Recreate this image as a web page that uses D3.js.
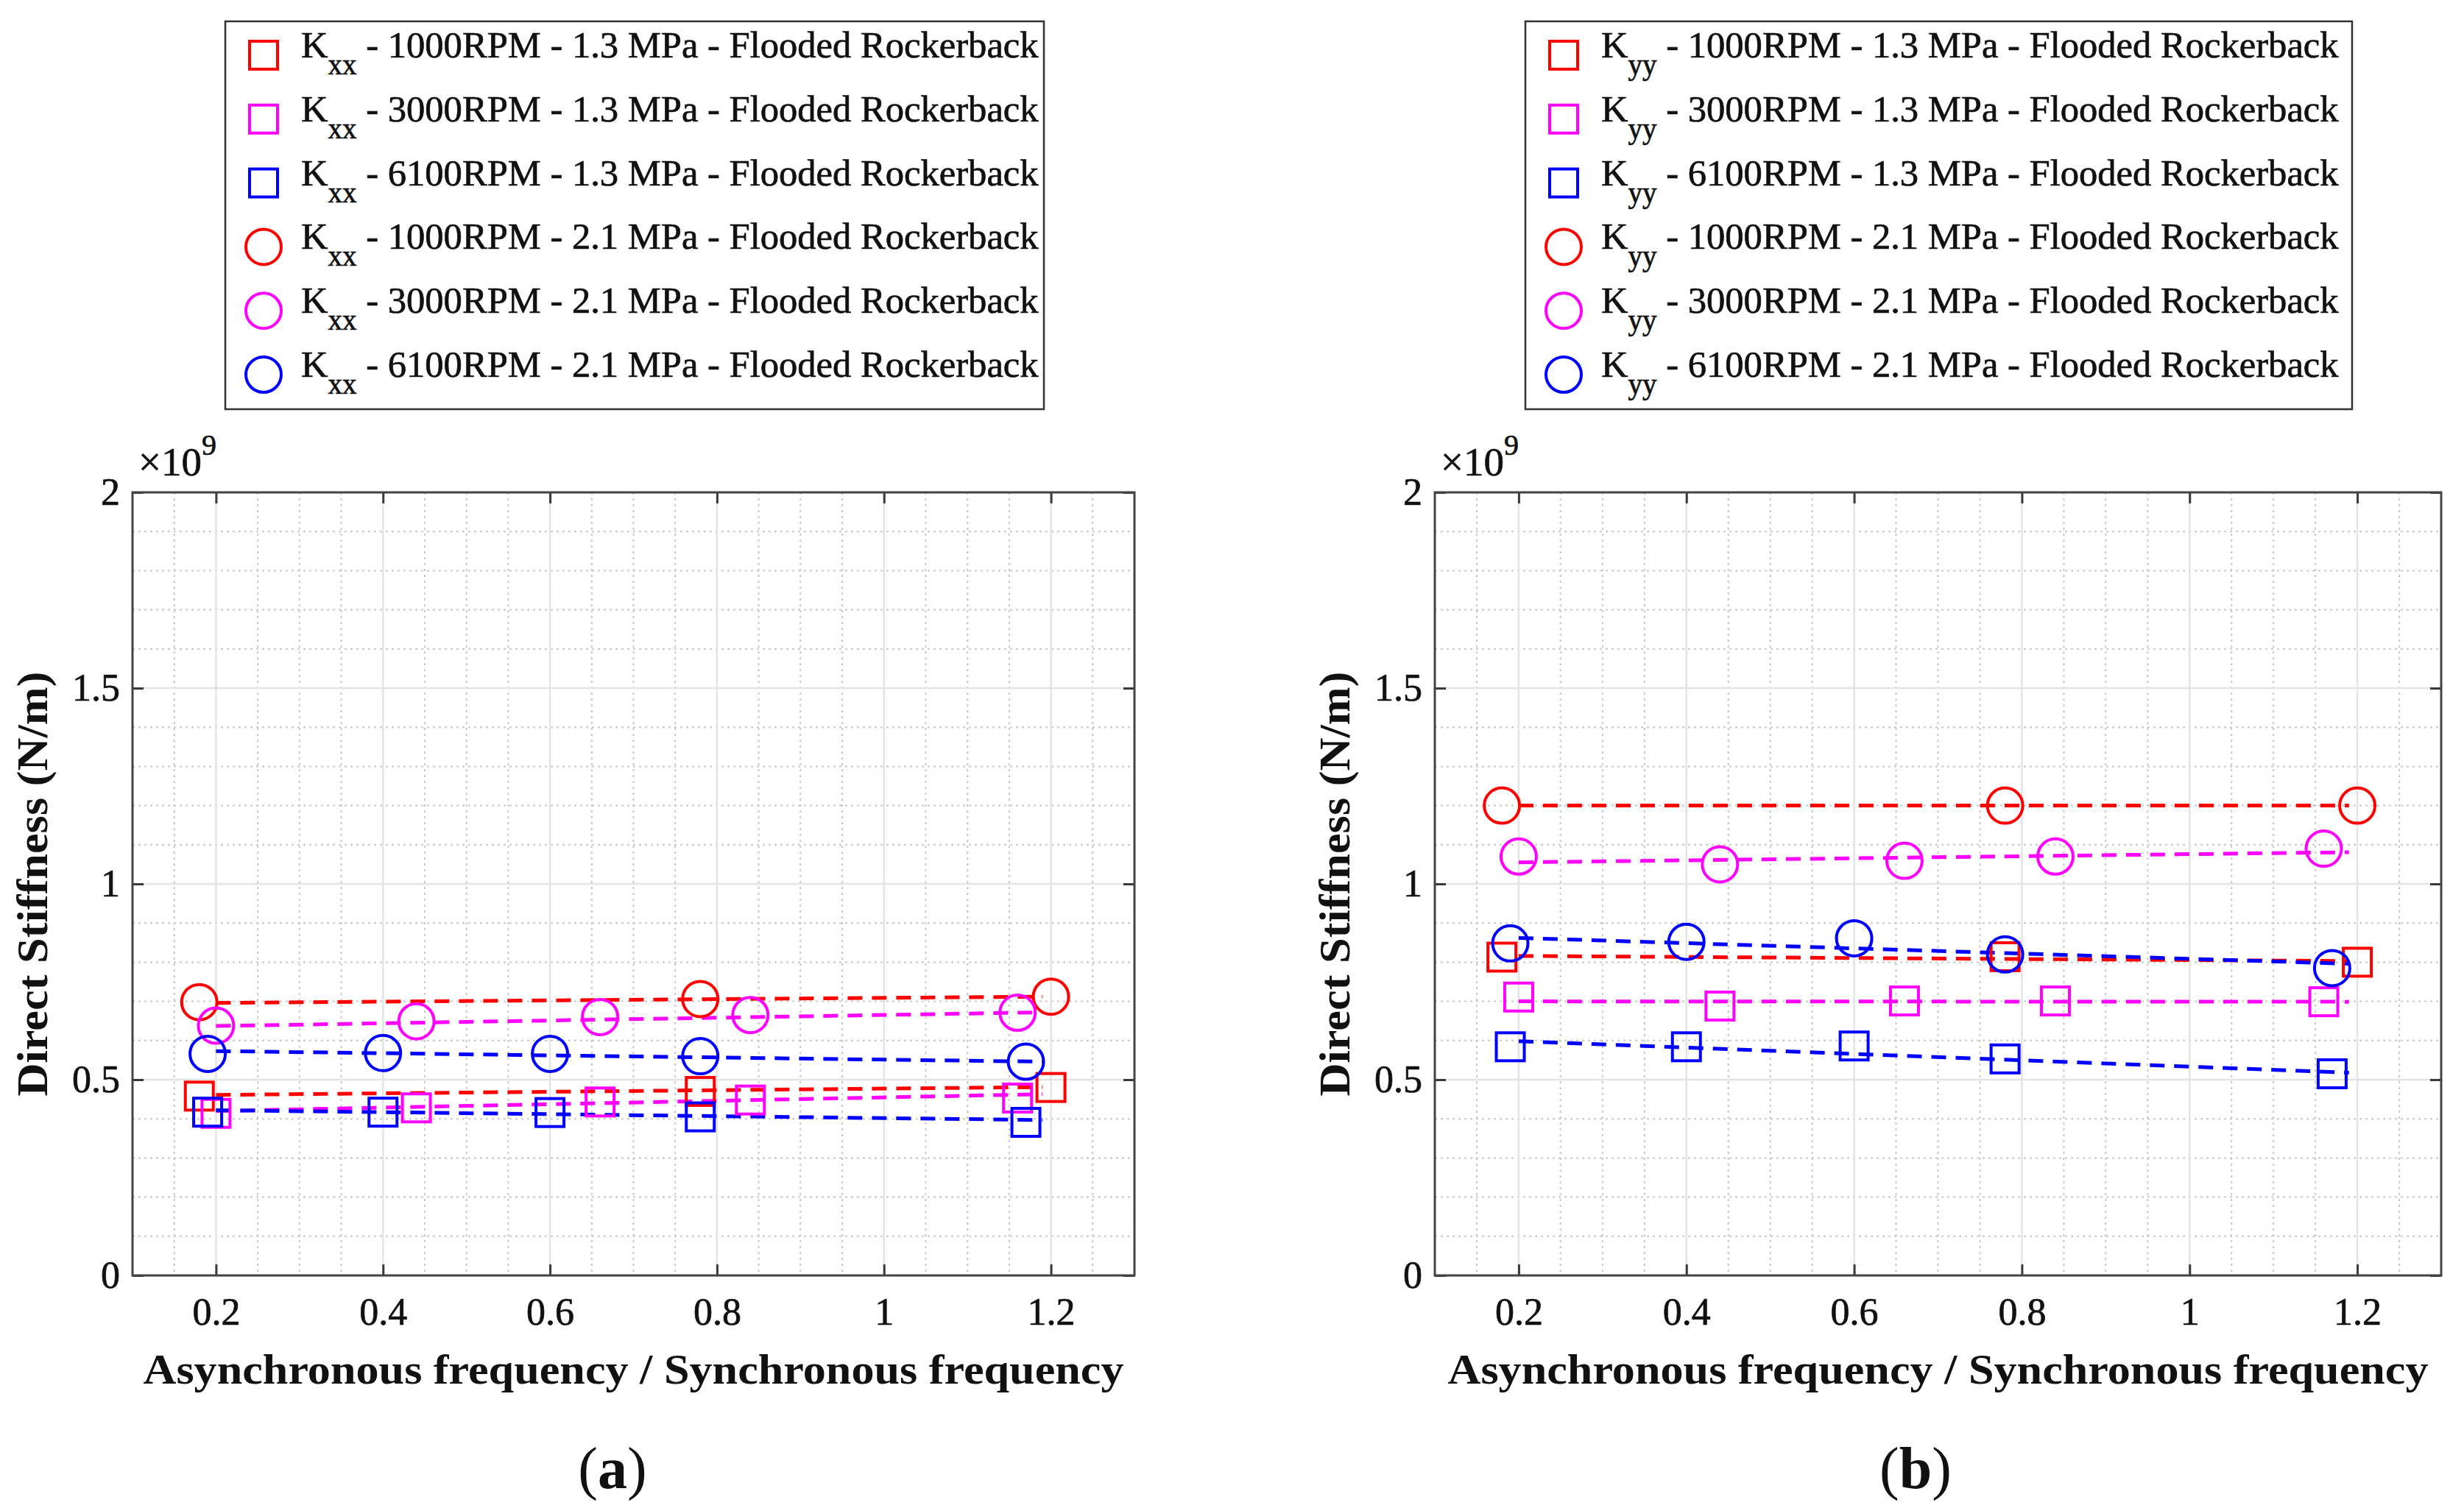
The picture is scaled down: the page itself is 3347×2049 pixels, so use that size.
<!DOCTYPE html>
<html><head><meta charset="utf-8">
<script src="https://cdn.jsdelivr.net/npm/d3@7"></script>
<style>body{margin:0;background:#fff} svg{display:block} text{font-family:"Liberation Serif","Times New Roman",serif;fill:#111}</style>
</head><body><svg id="chart" width="3347" height="2049"></svg>
<script>
// ---------------- data (stiffness in units of 1e9 N/m) ----------------
const freq1000 = [0.18, 0.78, 1.20];
const freq3000 = [0.20, 0.44, 0.66, 0.84, 1.16];
const freq6100 = [0.19, 0.40, 0.60, 0.78, 1.17];
const fitRange = [0.20, 1.19];

const speeds = ["1000RPM", "3000RPM", "6100RPM"];
const pressures = ["1.3 MPa", "2.1 MPa"];
const condition = "Flooded Rockerback";

// Kxx
const kxx1000_13 = [0.458, 0.470, 0.480];
const kxx3000_13 = [0.414, 0.428, 0.443, 0.448, 0.453];
const kxx6100_13 = [0.417, 0.417, 0.416, 0.405, 0.391];
const kxx1000_21 = [0.698, 0.706, 0.712];
const kxx3000_21 = [0.638, 0.649, 0.660, 0.665, 0.671];
const kxx6100_21 = [0.566, 0.568, 0.566, 0.560, 0.546];
// Kxx trend lines (value at fitRange ends)
const kxxFit1000_13 = [0.461, 0.481];
const kxxFit3000_13 = [0.420, 0.463];
const kxxFit6100_13 = [0.422, 0.397];
const kxxFit1000_21 = [0.696, 0.712];
const kxxFit3000_21 = [0.637, 0.672];
const kxxFit6100_21 = [0.573, 0.546];

// Kyy
const kyy1000_13 = [0.813, 0.814, 0.800];
const kyy3000_13 = [0.711, 0.688, 0.701, 0.701, 0.699];
const kyy6100_13 = [0.584, 0.584, 0.586, 0.553, 0.515];
const kyy1000_21 = [1.200, 1.200, 1.200];
const kyy3000_21 = [1.070, 1.050, 1.059, 1.070, 1.090];
const kyy6100_21 = [0.848, 0.852, 0.861, 0.820, 0.785];
// Kyy trend lines
const kyyFit1000_13 = [0.816, 0.803];
const kyyFit3000_13 = [0.700, 0.699];
const kyyFit6100_13 = [0.598, 0.518];
const kyyFit1000_21 = [1.200, 1.200];
const kyyFit3000_21 = [1.055, 1.081];
const kyyFit6100_21 = [0.862, 0.796];

const xTicks = [0.2, 0.4, 0.6, 0.8, 1, 1.2];
const xTickLabels = ["0.2", "0.4", "0.6", "0.8", "1", "1.2"];
const yTicks = [0, 0.5, 1, 1.5, 2];
const yTickLabels = ["0", "0.5", "1", "1.5", "2"];
const xDomain = [0.1, 1.3];
const yDomain = [0, 2];
const xLabel = "Asynchronous frequency / Synchronous frequency";
const yLabel = "Direct Stiffness (N/m)";

// ---------------- styles / layout ----------------
const colors = ["#ff0000", "#ff00ff", "#0000ff"];
const freqs = [freq1000, freq3000, freq6100];

function buildSeries(vals, fits) {
  const out = [];
  for (let p = 0; p < 2; p++) for (let s = 0; s < 3; s++) {
    const i = p * 3 + s;
    out.push({speed: speeds[s], pressure: pressures[p], color: colors[s],
      marker: p === 0 ? "square" : "circle",
      pts: freqs[s].map((f, j) => ({x: f, y: vals[i][j]})),
      fit: fitRange.map((f, j) => ({x: f, y: fits[i][j]}))});
  }
  return out;
}

const panels = [
  {sub: "xx", caption: "a",
   series: buildSeries([kxx1000_13, kxx3000_13, kxx6100_13, kxx1000_21, kxx3000_21, kxx6100_21],
                       [kxxFit1000_13, kxxFit3000_13, kxxFit6100_13, kxxFit1000_21, kxxFit3000_21, kxxFit6100_21]),
   box: {l: 180, r: 1541, t: 669, b: 1733}, leg: {x: 306, y: 29, w: 1112, h: 527}, capX: 832},
  {sub: "yy", caption: "b",
   series: buildSeries([kyy1000_13, kyy3000_13, kyy6100_13, kyy1000_21, kyy3000_21, kyy6100_21],
                       [kyyFit1000_13, kyyFit3000_13, kyyFit6100_13, kyyFit1000_21, kyyFit3000_21, kyyFit6100_21]),
   box: {l: 1949, r: 3316, t: 669, b: 1733}, leg: {x: 2072, y: 29, w: 1123, h: 527}, capX: 2602}
];

const svg = d3.select("#chart");
svg.append("rect").attr("width", 3347).attr("height", 2049).attr("fill", "#fff");

const SQ = 38, CR = 24, MSW = 4;
function drawMarker(g, type, cx, cy, color) {
  if (type === "square") {
    g.append("rect").attr("x", cx - SQ / 2).attr("y", cy - SQ / 2).attr("width", SQ).attr("height", SQ)
      .attr("fill", "none").attr("stroke", color).attr("stroke-width", MSW);
  } else {
    g.append("circle").attr("cx", cx).attr("cy", cy).attr("r", CR)
      .attr("fill", "none").attr("stroke", color).attr("stroke-width", MSW);
  }
}
const heavy = sel => sel.attr("stroke", "#111").attr("stroke-width", 0.7);

panels.forEach(P => {
  const {l, r, t, b} = P.box;
  const x = d3.scaleLinear().domain(xDomain).range([l, r]);
  const y = d3.scaleLinear().domain(yDomain).range([b, t]);
  const g = svg.append("g");

  // minor grid
  const xMinor = d3.range(0.15, 1.3, 0.05).filter(v => !xTicks.some(tk => Math.abs(tk - v) < 1e-6));
  const yMinor = d3.range(0.1, 2, 0.1).filter(v => !yTicks.some(tk => Math.abs(tk - v) < 1e-6));
  g.selectAll(".gxm").data(xMinor).enter().append("line")
    .attr("x1", d => x(d)).attr("x2", d => x(d)).attr("y1", t).attr("y2", b)
    .attr("stroke", "#c8c8c8").attr("stroke-width", 2).attr("stroke-dasharray", "3 5");
  g.selectAll(".gym").data(yMinor).enter().append("line")
    .attr("y1", d => y(d)).attr("y2", d => y(d)).attr("x1", l).attr("x2", r)
    .attr("stroke", "#c8c8c8").attr("stroke-width", 2).attr("stroke-dasharray", "3 5");
  // major grid
  g.selectAll(".gx").data(xTicks).enter().append("line")
    .attr("x1", d => x(d)).attr("x2", d => x(d)).attr("y1", t).attr("y2", b)
    .attr("stroke", "#e4e4e4").attr("stroke-width", 2.5);
  g.selectAll(".gy").data(yTicks).enter().append("line")
    .attr("y1", d => y(d)).attr("y2", d => y(d)).attr("x1", l).attr("x2", r)
    .attr("stroke", "#e4e4e4").attr("stroke-width", 2.5);

  // axes
  const fmtX = d => xTickLabels[xTicks.indexOf(d)];
  const fmtY = d => yTickLabels[yTicks.indexOf(d)];
  const axB = g.append("g").attr("transform", `translate(0,${b})`)
    .call(d3.axisBottom(x).tickValues(xTicks).tickFormat(fmtX).tickSizeInner(-15).tickSizeOuter(0).tickPadding(30));
  const axT = g.append("g").attr("transform", `translate(0,${t})`)
    .call(d3.axisTop(x).tickValues(xTicks).tickFormat("").tickSizeInner(-15).tickSizeOuter(0));
  const axL = g.append("g").attr("transform", `translate(${l},0)`)
    .call(d3.axisLeft(y).tickValues(yTicks).tickFormat(fmtY).tickSizeInner(-15).tickSizeOuter(0).tickPadding(17));
  const axR = g.append("g").attr("transform", `translate(${r},0)`)
    .call(d3.axisRight(y).tickValues(yTicks).tickFormat("").tickSizeInner(-15).tickSizeOuter(0));
  [axB, axT, axL, axR].forEach(a => {
    a.select(".domain").remove();
    a.selectAll(".tick line").attr("stroke", "#3a3a3a").attr("stroke-width", 3);
    a.selectAll(".tick text").attr("font-size", 52).attr("fill", "#111")
      .style("font-family", '"Liberation Serif", serif').call(heavy);
  });
  g.append("rect").attr("x", l).attr("y", t).attr("width", r - l).attr("height", b - t)
    .attr("fill", "none").attr("stroke", "#444").attr("stroke-width", 3);

  // exponent
  const ex = g.append("text").attr("x", l + 8).attr("y", 646).attr("font-size", 55).call(heavy);
  ex.append("tspan").text("\u00d710");
  ex.append("tspan").attr("font-size", 40).attr("dy", -28).text("9");

  // axis labels
  g.append("text").attr("x", (l + r) / 2).attr("y", 1880).attr("text-anchor", "middle")
    .attr("font-size", 58).attr("font-weight", "bold")
    .attr("textLength", 1332).attr("lengthAdjust", "spacingAndGlyphs").text(xLabel);
  g.append("text").attr("transform", `translate(${l - 116},${(t + b) / 2}) rotate(-90)`)
    .attr("text-anchor", "middle").attr("font-size", 60).attr("font-weight", "bold")
    .attr("textLength", 577).attr("lengthAdjust", "spacingAndGlyphs").text(yLabel);

  // trend lines
  const line = d3.line().x(d => x(d.x)).y(d => y(d.y));
  P.series.forEach(s => {
    g.append("path").attr("d", line(s.fit)).attr("fill", "none").attr("stroke", s.color)
      .attr("stroke-width", 5).attr("stroke-dasharray", "20 13");
  });
  // markers
  P.series.forEach(s => {
    s.pts.forEach(p => drawMarker(g, s.marker, x(p.x), y(p.y), s.color));
  });

  // legend
  const L = P.leg;
  g.append("rect").attr("x", L.x).attr("y", L.y).attr("width", L.w).attr("height", L.h)
    .attr("fill", "#fff").attr("stroke", "#333").attr("stroke-width", 2.5);
  P.series.forEach((s, i) => {
    const ry = L.y + 46 + i * 86.8;
    drawMarker(g, s.marker, L.x + 52, ry, s.color);
    const tx = g.append("text").attr("x", L.x + 103).attr("y", ry + 3).attr("font-size", 50.6)
      .style("white-space", "pre").call(heavy);
    tx.append("tspan").text("K");
    tx.append("tspan").attr("font-size", 39).attr("dy", 23).text(P.sub);
    tx.append("tspan").attr("font-size", 50.6).attr("dy", -23)
      .text(` - ${s.speed} - ${s.pressure} - ${condition}`);
  });

  // caption
  const cap = g.append("text").attr("x", P.capX).attr("y", 2022).attr("text-anchor", "middle")
    .attr("font-size", 80);
  cap.append("tspan").text("(");
  cap.append("tspan").attr("font-weight", "bold").text(P.caption);
  cap.append("tspan").text(")");
});
</script></body></html>
